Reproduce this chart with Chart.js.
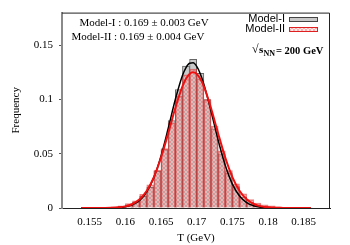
<!DOCTYPE html>
<html>
<head>
<meta charset="utf-8">
<script src="https://cdn.jsdelivr.net/npm/chart.js@4"></script>
<style>
  html, body { margin: 0; padding: 0; background: #fff; }
  #wrap { width: 350px; height: 245px; position: relative; }
</style>
</head>
<body>
<div id="wrap"><canvas id="tChart" width="350" height="245"></canvas></div>
<script>
// bin centres (bin width 0.001 GeV)
const binT = [0.1555, 0.1565, 0.1575, 0.1585, 0.1595, 0.1605, 0.1615, 0.1625, 0.1635, 0.1645,
              0.1655, 0.1665, 0.1675, 0.1685, 0.1695, 0.1705, 0.1715, 0.1725, 0.1735, 0.1745,
              0.1755, 0.1765, 0.1775, 0.1785, 0.1795, 0.1805, 0.1815, 0.1825, 0.1835];
const model1Freq = [0, 0, 0, 0.0005, 0.001, 0.003, 0.0055, 0.0107, 0.019, 0.0337,
                    0.0538, 0.0806, 0.109, 0.1308, 0.137, 0.124, 0.0998, 0.073, 0.050, 0.0323,
                    0.0198, 0.010, 0.005, 0.003, 0.0015, 0.0008, 0.0003, 0, 0];
const model2Freq = [0, 0.0002, 0.0003, 0.001, 0.002, 0.004, 0.0067, 0.0125, 0.0213, 0.035,
                    0.0547, 0.0784, 0.1028, 0.1226, 0.128, 0.119, 0.0998, 0.0754, 0.0526, 0.0344,
                    0.0222, 0.0131, 0.0077, 0.0046, 0.003, 0.002, 0.001, 0.0005, 0.0002];

// fitted curves
const curveT = [0.1538, 0.156, 0.158, 0.160, 0.161, 0.162, 0.163, 0.164, 0.165, 0.166,
                0.167, 0.168, 0.1685, 0.169, 0.1695, 0.170, 0.1705, 0.171, 0.172, 0.173,
                0.174, 0.175, 0.176, 0.177, 0.178, 0.179, 0.180, 0.182, 0.184, 0.186];
const model1Fit = [0, 0, 0.0001, 0.0011, 0.0029, 0.0069, 0.0148, 0.0282, 0.048, 0.0732,
                   0.0999, 0.122, 0.1293, 0.1333, 0.1337, 0.1304, 0.1237, 0.1141, 0.0894, 0.0627,
                   0.0393, 0.022, 0.0111, 0.005, 0.002, 0.0007, 0.0002, 0, 0, 0];
const model2Fit = [0, 0, 0.0002, 0.0015, 0.0037, 0.008, 0.0159, 0.0285, 0.0465, 0.0687,
                   0.0921, 0.112, 0.119, 0.1235, 0.125, 0.1235, 0.119, 0.112, 0.0921, 0.0687,
                   0.0465, 0.0285, 0.0159, 0.008, 0.0037, 0.0015, 0.0006, 0.0001, 0, 0];

const xTicks = [0.155, 0.16, 0.165, 0.17, 0.175, 0.18, 0.185];
const xTickLabels = ['0.155', '0.16', '0.165', '0.17', '0.175', '0.18', '0.185'];
const yTicks = [0, 0.05, 0.1, 0.15];
const yTickLabels = ['0', '0.05', '0.1', '0.15'];

const seriesNames = ['Model-I', 'Model-II'];
const fitNotes = ['Model-I : 0.169 \u00b1 0.003 GeV', 'Model-II : 0.169 \u00b1 0.004 GeV'];

const SERIF = '"Liberation Serif", "Times New Roman", serif';
const SANS = '"Liberation Sans", Arial, sans-serif';

// red hatch pattern for Model-II
function makeHatch() {
    const c = document.createElement('canvas');
    c.width = 4; c.height = 4;
    const g = c.getContext('2d');
    g.fillStyle = 'rgba(255,160,160,0.25)';
    g.fillRect(0, 0, 4, 4);
    g.strokeStyle = 'rgba(225,60,60,0.3)';
    g.lineWidth = 1;
    g.beginPath();
    g.moveTo(0, 4); g.lineTo(4, 0);
    g.moveTo(0, 0); g.lineTo(4, 4);
    g.stroke();
    return g.createPattern(c, 'repeat');
}
const ctx = document.getElementById('tChart').getContext('2d');
const hatch = makeHatch();

const toXY = (xs, ys) => xs.map((x, i) => ({ x: x, y: ys[i] }));

const decor = {
    id: 'decor',
    afterDraw(chart) {
        const c = chart.ctx, a = chart.chartArea;
        c.save();
        // top and right frame
        c.strokeStyle = '#222';
        c.lineWidth = 1;
        c.beginPath();
        c.moveTo(a.left, a.top + 0.5);
        c.lineTo(a.right - 0.5, a.top + 0.5);
        c.lineTo(a.right - 0.5, a.bottom);
        c.stroke();

        // fit results
        c.fillStyle = '#000';
        c.font = '11px ' + SERIF;
        c.textAlign = 'center';
        c.textBaseline = 'middle';
        c.fillText(fitNotes[0], 144, 23);
        c.fillText(fitNotes[1], 138, 37);

        // legend
        c.font = '11px ' + SANS;
        c.textAlign = 'right';
        c.fillText(seriesNames[0], 285, 19);
        c.fillText(seriesNames[1], 285, 29);
        c.fillStyle = '#c8c8c8';
        c.fillRect(289, 17, 28, 4);
        c.strokeStyle = '#444';
        c.strokeRect(289.5, 17.5, 28, 4);
        c.fillStyle = '#fff';
        c.fillRect(289, 27, 28, 4);
        c.fillStyle = hatch;
        c.fillRect(289, 27, 28, 4);
        c.strokeStyle = '#e02020';
        c.strokeRect(289.5, 27.5, 28, 4);

        // sqrt(s_NN) label
        c.fillStyle = '#000';
        c.textAlign = 'left';
        c.font = '12px ' + SERIF;
        c.fillText('\u221a', 252, 50);
        c.font = 'bold 11px ' + SERIF;
        c.fillText('s', 259, 50);
        c.font = 'bold 8px ' + SERIF;
        c.fillText('NN', 263.5, 53.5);
        c.font = 'bold 10.5px ' + SERIF;
        c.fillText('= 200 GeV', 276, 51);
        c.restore();
    }
};

new Chart(ctx, {
    type: 'bar',
    data: {
        datasets: [
            {
                type: 'line',
                label: seriesNames[1] + ' fit',
                data: toXY(curveT, model2Fit),
                borderColor: '#f01010',
                borderWidth: 2,
                pointRadius: 0,
                cubicInterpolationMode: 'monotone',
                order: 1
            },
            {
                type: 'line',
                label: seriesNames[0] + ' fit',
                data: toXY(curveT, model1Fit),
                borderColor: '#000',
                borderWidth: 1.5,
                pointRadius: 0,
                cubicInterpolationMode: 'monotone',
                order: 2
            },
            {
                label: seriesNames[1],
                data: toXY(binT, model2Freq),
                backgroundColor: hatch,
                borderColor: 'rgba(220,50,50,0.6)',
                borderWidth: 1,
                grouped: false,
                barPercentage: 1,
                categoryPercentage: 1,
                order: 3
            },
            {
                label: seriesNames[0],
                data: toXY(binT, model1Freq),
                backgroundColor: '#cacaca',
                borderColor: '#666',
                borderWidth: 1,
                grouped: false,
                barPercentage: 1,
                categoryPercentage: 1,
                order: 4
            }
        ]
    },
    options: {
        responsive: false,
        animation: false,
        devicePixelRatio: 1,
        layout: { padding: { top: 10, right: 20, left: 0, bottom: 0 } },
        plugins: { legend: { display: false }, tooltip: { enabled: false } },
        scales: {
            x: {
                type: 'linear',
                min: 0.1538,
                max: 0.186,
                afterBuildTicks: s => { s.ticks = xTicks.map(v => ({ value: v })); },
                afterFit: s => { s.height = 37; },
                grid: { display: false, drawTicks: false },
                border: { color: '#222', width: 1 },
                ticks: {
                    padding: 8,
                    color: '#000',
                    font: { family: SERIF, size: 11 },
                    callback: (v, i) => xTickLabels[i]
                },
                title: {
                    display: true,
                    text: 'T (GeV)',
                    color: '#000',
                    font: { family: SERIF, size: 11 },
                    padding: { top: 1, bottom: 0 }
                }
            },
            y: {
                min: 0,
                max: 0.18,
                afterBuildTicks: s => { s.ticks = yTicks.map(v => ({ value: v })); },
                afterFit: s => { s.width = 62; },
                grid: { display: true, drawOnChartArea: false, drawTicks: true, tickLength: 3, color: '#555' },
                border: { color: '#8a8a8a', width: 2 },
                ticks: {
                    padding: 6,
                    color: '#000',
                    font: { family: SERIF, size: 11 },
                    callback: (v, i) => yTickLabels[i]
                },
                title: {
                    display: true,
                    text: 'Frequency',
                    color: '#000',
                    font: { family: SERIF, size: 11 },
                    padding: { top: 10, bottom: 0 }
                }
            }
        }
    },
    plugins: [decor]
});
</script>
</body>
</html>
